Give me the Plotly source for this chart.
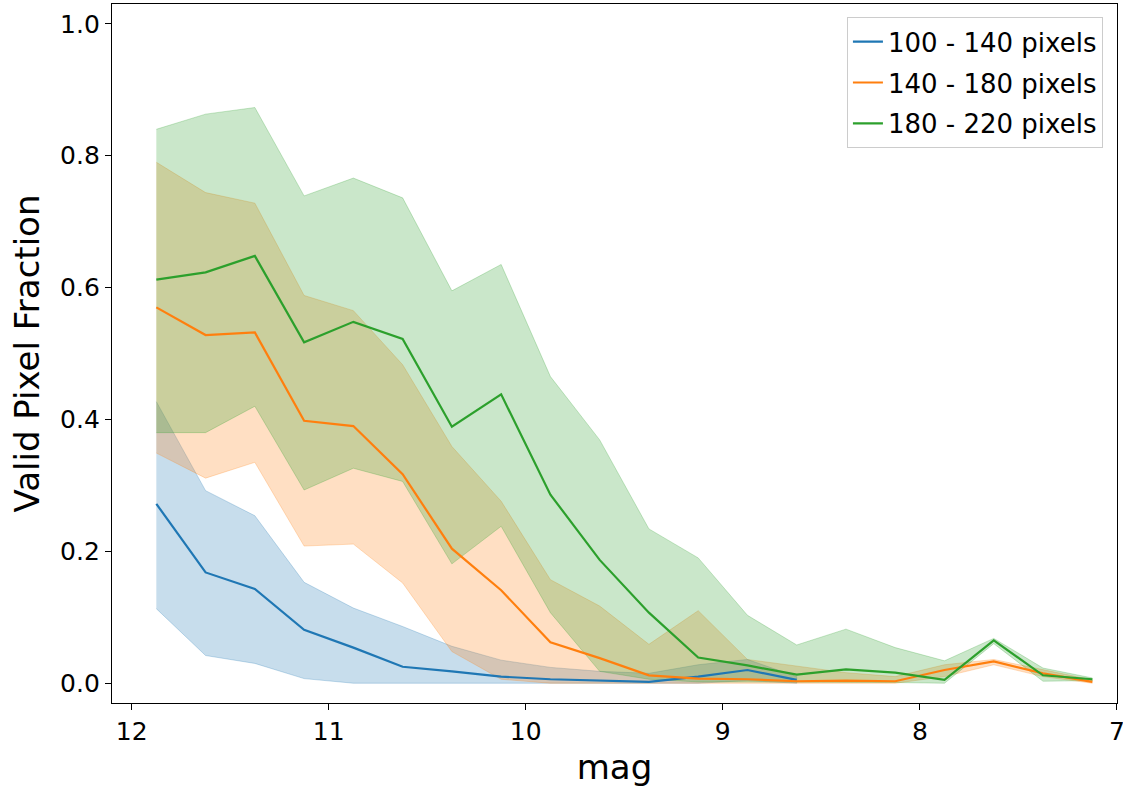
import plotly.graph_objects as go

mag = [11.875, 11.625, 11.375, 11.125, 10.875, 10.625, 10.375, 10.125, 9.875, 9.625,
       9.375, 9.125, 8.875, 8.625, 8.375, 8.125, 7.875, 7.625, 7.375, 7.125]

labels = ["100 - 140 pixels", "140 - 180 pixels", "180 - 220 pixels"]

blue_mean = [0.272, 0.168, 0.143, 0.081, 0.054, 0.025, 0.018, 0.010, 0.006, 0.004,
             0.002, 0.010, 0.020, 0.005]
blue_upper = [0.427, 0.292, 0.254, 0.153, 0.114, 0.086, 0.056, 0.035, 0.024, 0.018,
              0.015, 0.028, 0.036, 0.010]
blue_lower = [0.113, 0.042, 0.030, 0.007, 0.0, 0.0, 0.0, 0.0, 0.0, 0.0,
              0.0, 0.0, 0.004, 0.0]

orange_mean = [0.570, 0.528, 0.532, 0.398, 0.390, 0.317, 0.204, 0.141, 0.062, 0.038,
               0.012, 0.007, 0.006, 0.003, 0.004, 0.003, 0.020, 0.033, 0.015, 0.002]
orange_upper = [0.790, 0.744, 0.728, 0.588, 0.565, 0.483, 0.359, 0.276, 0.157, 0.117,
                0.059, 0.110, 0.036, 0.026, 0.016, 0.010, 0.028, 0.036, 0.020, 0.005]
orange_lower = [0.349, 0.311, 0.335, 0.208, 0.211, 0.152, 0.048, 0.006, 0.0, 0.0,
                0.0, 0.0, 0.0, 0.0, 0.0, 0.0, 0.010, 0.028, 0.010, 0.0]

green_mean = [0.612, 0.623, 0.648, 0.517, 0.548, 0.522, 0.389, 0.438, 0.286, 0.187,
              0.107, 0.039, 0.027, 0.013, 0.021, 0.016, 0.005, 0.065, 0.012, 0.006]
green_upper = [0.840, 0.863, 0.873, 0.739, 0.766, 0.736, 0.595, 0.635, 0.465, 0.369,
               0.234, 0.190, 0.103, 0.058, 0.082, 0.054, 0.034, 0.068, 0.023, 0.008]
green_lower = [0.380, 0.380, 0.420, 0.293, 0.326, 0.306, 0.181, 0.238, 0.107, 0.018,
               0.006, 0.002, 0.002, 0.001, 0.001, 0.001, 0.0, 0.060, 0.003, 0.004]

series = [
    (labels[0], blue_mean, blue_upper, blue_lower, "#1f77b4", "rgba(31,119,180,0.25)"),
    (labels[1], orange_mean, orange_upper, orange_lower, "#ff7f0e", "rgba(255,127,14,0.25)"),
    (labels[2], green_mean, green_upper, green_lower, "#2ca02c", "rgba(44,160,44,0.25)"),
]

fig = go.Figure()
for name, mean, up, lo, col, fcol in series:
    xs = mag[:len(mean)]
    fig.add_trace(go.Scatter(
        x=xs + xs[::-1], y=up + lo[::-1], fill="toself", fillcolor=fcol,
        line=dict(color=fcol, width=1), mode="lines", showlegend=False, hoverinfo="skip"))
for name, mean, up, lo, col, fcol in series:
    xs = mag[:len(mean)]
    fig.add_trace(go.Scatter(x=xs, y=mean, mode="lines", name=name, legendgroup=name,
                             line=dict(color=col, width=2.2)))

axis_common = dict(
    showline=True, linecolor="black", linewidth=1.3, mirror=True,
    ticks="outside", ticklen=6, tickwidth=1.3, tickcolor="black",
    showgrid=False, zeroline=False, automargin=False, ticklabeloverflow="allow",
    tickfont=dict(family="DejaVu Sans", size=25, color="black"),
)

fig.update_layout(
    width=1123, height=787,
    margin=dict(l=112, r=6, t=4, b=84),
    paper_bgcolor="white", plot_bgcolor="white",
    font=dict(family="DejaVu Sans", color="black"),
    xaxis=dict(range=[12.1, 6.9995], tickvals=[12, 11, 10, 9, 8, 7],
               title=dict(text="mag", font=dict(size=34), standoff=12), **axis_common),
    yaxis=dict(range=[-0.03, 1.03], tickvals=[0, 0.2, 0.4, 0.6, 0.8, 1.0], tickformat=".1f",
               title=dict(text="Valid Pixel Fraction", font=dict(size=34), standoff=10),
               **axis_common),
    legend=dict(x=0.986, y=0.981, xanchor="right", yanchor="top",
                bordercolor="#cccccc", borderwidth=1, bgcolor="rgba(255,255,255,0.8)",
                tracegroupgap=4,
                font=dict(size=26, family="DejaVu Sans")),
)

fig.write_html("out.html", config={"displayModeBar": False},
               post_script="document.body.style.margin='0';document.body.style.padding='0';")
